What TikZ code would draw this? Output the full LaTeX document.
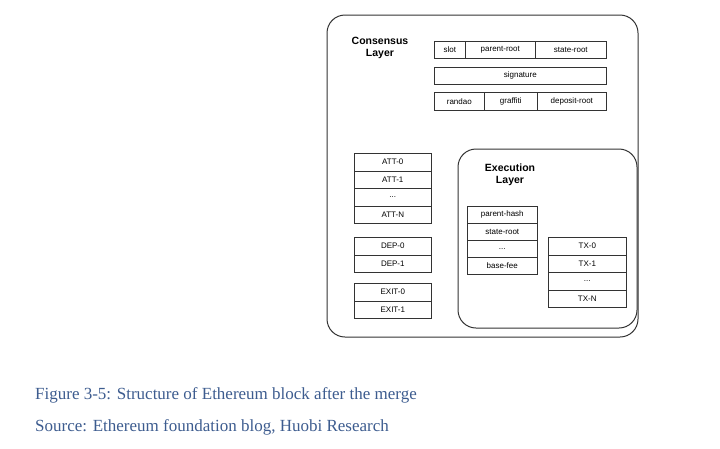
\documentclass[tikz,border=0pt]{standalone}
\usepackage{fontspec}
\setmainfont{Liberation Sans}
\newfontfamily\capfont{Liberation Serif}
\definecolor{capcol}{HTML}{3D5C8F}
\begin{document}
\begin{tikzpicture}[x=1pt,y=-1pt,
  fld/.style={draw=black!80,line width=0.6pt,inner sep=0pt,font=\fontsize{8}{9}\selectfont},
  lay/.style={draw=black!80,line width=1pt,rounded corners=18pt},
  ttl/.style={font=\bfseries\fontsize{10.5}{12.5}\selectfont,align=center},
  capt/.style={font=\capfont\fontsize{17}{20}\selectfont,text=capcol,anchor=west,inner sep=0pt}]
\useasboundingbox (0,0) rectangle (720,448);
\newcommand{\myfld}[6]{\node[fld,minimum width={(#4-#2)*1pt},minimum height={(#5-#3)*1pt},anchor=north west] (#1) at (#2,#3) {#6};}
\draw[lay] (327,15) rectangle (638,337);
\node[ttl] (cl) at (380,48) {Consensus\\Layer};
\myfld{slot}{434}{41}{465}{58}{slot}
\myfld{pr}{465}{41}{535}{58}{parent-root}
\myfld{sr}{535}{41}{606}{58}{state-root}
\myfld{sig}{434}{67}{606}{84}{signature}
\myfld{ran}{434}{92}{484}{110}{randao}
\myfld{gra}{484}{92}{537}{110}{graffiti}
\myfld{dep}{537}{92}{606}{110}{deposit-root}
\myfld{a0}{354}{153}{431}{170.5}{ATT-0}
\myfld{a1}{354}{170.5}{431}{188}{ATT-1}
\myfld{a2}{354}{188}{431}{205.5}{...}
\myfld{a3}{354}{205.5}{431}{223}{ATT-N}
\myfld{d0}{354}{237}{431}{254.5}{DEP-0}
\myfld{d1}{354}{254.5}{431}{272}{DEP-1}
\myfld{e0}{354}{283}{431}{300.5}{EXIT-0}
\myfld{e1}{354}{300.5}{431}{318}{EXIT-1}
\draw[lay] (458,149) rectangle (637,328);
\node[ttl] (el) at (510,175) {Execution\\Layer};
\myfld{ph}{467}{206}{537}{223}{parent-hash}
\myfld{esr}{467}{223}{537}{240}{state-root}
\myfld{edots}{467}{240}{537}{257}{...}
\myfld{bf}{467}{257}{537}{274}{base-fee}
\myfld{t0}{548}{237}{626}{254.5}{TX-0}
\myfld{t1}{548}{254.5}{626}{272}{TX-1}
\myfld{t2}{548}{272}{626}{289.5}{...}
\myfld{t3}{548}{289.5}{626}{307}{TX-N}
\node[capt] (c1) at (35,395) {Figure 3-5: Structure of Ethereum block after the merge};
\node[capt] (c2) at (35,427) {Source: Ethereum foundation blog, Huobi Research};
\end{tikzpicture}
\end{document}
